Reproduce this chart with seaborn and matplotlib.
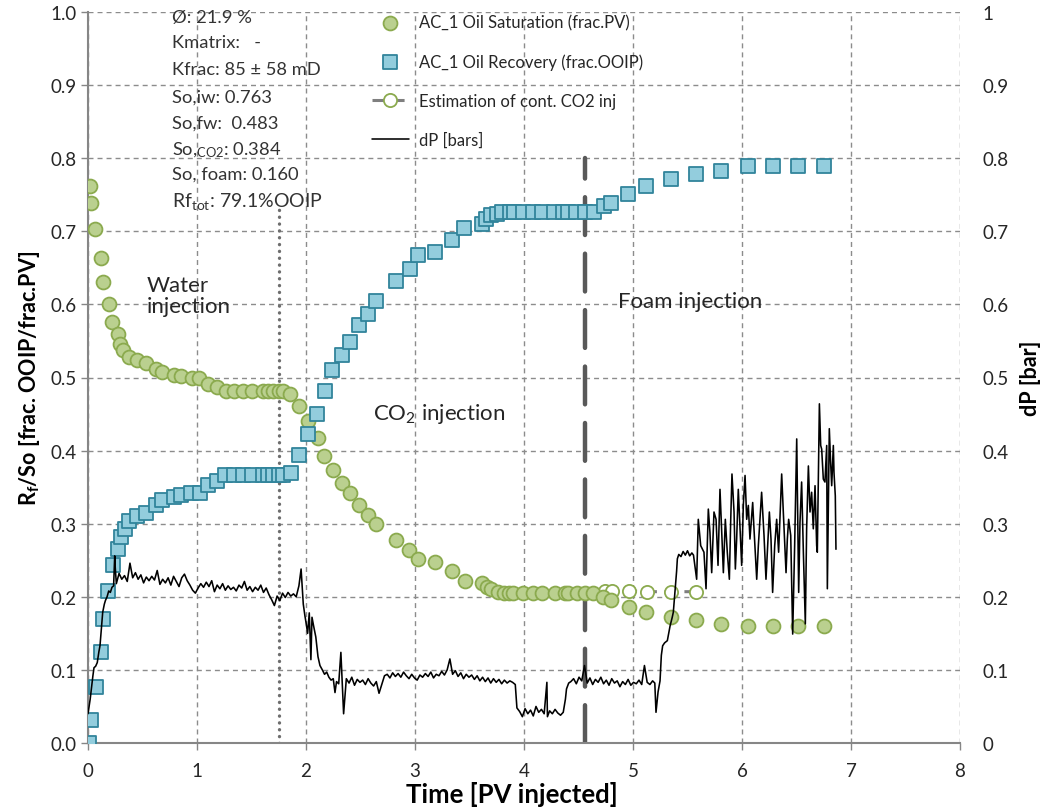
import numpy as np
import pandas as pd
import matplotlib
matplotlib.use("Agg")
import matplotlib.pyplot as plt
import seaborn as sns

# ---------------- data ----------------
# AC_1 oil saturation (frac. PV) vs. injected pore volumes
sat_pv = [0.018, 0.030, 0.064, 0.116, 0.135, 0.193, 0.223, 0.272, 0.294, 0.324,
          0.379, 0.452, 0.532, 0.624, 0.676, 0.792, 0.850, 0.951, 1.020, 1.104,
          1.180, 1.263, 1.340, 1.425, 1.508, 1.603, 1.654, 1.700, 1.752, 1.786,
          1.853, 1.939, 2.015, 2.107, 2.165, 2.245, 2.330, 2.404, 2.490, 2.566,
          2.642, 2.823, 2.945, 3.028, 3.183, 3.343, 3.456, 3.612, 3.657, 3.700,
          3.764, 3.817, 3.865, 3.902, 3.994, 4.085, 4.168, 4.284, 4.376, 4.407,
          4.483, 4.560, 4.636, 4.727, 4.798, 4.960, 5.119, 5.346, 5.578, 5.810,
          6.058, 6.287, 6.517, 6.752]
sat_so = [0.762, 0.739, 0.703, 0.664, 0.630, 0.600, 0.576, 0.559, 0.546, 0.537,
          0.528, 0.524, 0.520, 0.512, 0.507, 0.503, 0.502, 0.499, 0.499, 0.491,
          0.487, 0.482, 0.482, 0.482, 0.482, 0.482, 0.482, 0.482, 0.482, 0.482,
          0.477, 0.461, 0.440, 0.417, 0.392, 0.373, 0.355, 0.342, 0.325, 0.312,
          0.299, 0.278, 0.264, 0.252, 0.247, 0.235, 0.222, 0.219, 0.214, 0.210,
          0.207, 0.205, 0.205, 0.205, 0.205, 0.205, 0.205, 0.205, 0.205, 0.205,
          0.205, 0.205, 0.205, 0.200, 0.195, 0.186, 0.179, 0.172, 0.168, 0.163,
          0.160, 0.160, 0.160, 0.160]

# AC_1 oil recovery (frac. OOIP)
rec_pv = [0.012, 0.028, 0.070, 0.116, 0.141, 0.187, 0.226, 0.272, 0.300, 0.343,
          0.379, 0.452, 0.532, 0.624, 0.676, 0.792, 0.850, 0.945, 1.028, 1.104,
          1.180, 1.257, 1.340, 1.425, 1.508, 1.603, 1.650, 1.700, 1.755, 1.790,
          1.859, 1.939, 2.015, 2.098, 2.174, 2.241, 2.327, 2.404, 2.490, 2.566,
          2.639, 2.823, 2.954, 3.025, 3.183, 3.343, 3.452, 3.612, 3.651, 3.694,
          3.755, 3.795, 3.872, 3.909, 3.994, 4.080, 4.168, 4.275, 4.360, 4.407,
          4.480, 4.557, 4.645, 4.734, 4.798, 4.957, 5.119, 5.346, 5.578, 5.810,
          6.058, 6.287, 6.517, 6.752]
rec_rf = [0.000, 0.031, 0.076, 0.125, 0.170, 0.208, 0.243, 0.265, 0.282, 0.293,
          0.304, 0.310, 0.314, 0.325, 0.332, 0.337, 0.339, 0.342, 0.342, 0.353,
          0.359, 0.366, 0.366, 0.366, 0.366, 0.366, 0.366, 0.366, 0.366, 0.366,
          0.370, 0.394, 0.423, 0.450, 0.482, 0.510, 0.531, 0.548, 0.572, 0.587,
          0.604, 0.632, 0.649, 0.667, 0.672, 0.688, 0.705, 0.710, 0.717, 0.722,
          0.724, 0.727, 0.727, 0.727, 0.727, 0.727, 0.727, 0.727, 0.727, 0.727,
          0.727, 0.727, 0.727, 0.734, 0.739, 0.751, 0.762, 0.772, 0.779, 0.783,
          0.790, 0.790, 0.790, 0.790]

# Estimated saturation had CO2 injection continued
est_pv = [4.743, 4.804, 4.960, 5.125, 5.346, 5.578]
est_so = [0.208, 0.208, 0.208, 0.207, 0.207, 0.207]

# Differential pressure log [bar]
dp_t1 = [0.000, 0.020, 0.034, 0.045, 0.055, 0.070, 0.085, 0.100, 0.110, 0.125,
         0.135, 0.150, 0.160, 0.175, 0.190, 0.205, 0.220, 0.235, 0.245, 0.250]
dp_v1 = [0.040, 0.060, 0.078, 0.092, 0.103, 0.105, 0.110, 0.125, 0.133, 0.160,
         0.179, 0.190, 0.195, 0.200, 0.208, 0.206, 0.213, 0.215, 0.256, 0.240]
# water injection plateau, logged every 0.025 PV from 0.26 PV
dp_v2 = [0.218, 0.232, 0.224, 0.229, 0.221, 0.246, 0.226, 0.233, 0.224, 0.230,
         0.219, 0.227, 0.222, 0.228, 0.223, 0.236, 0.217, 0.224, 0.219, 0.226,
         0.216, 0.228, 0.221, 0.214, 0.226, 0.231, 0.222, 0.216, 0.209, 0.205,
         0.212, 0.218, 0.213, 0.220, 0.214, 0.222, 0.207, 0.216, 0.211, 0.218,
         0.209, 0.215, 0.210, 0.213, 0.208, 0.216, 0.212, 0.221, 0.209, 0.214,
         0.207, 0.213, 0.209, 0.216, 0.206, 0.212, 0.203, 0.196, 0.188, 0.201,
         0.195, 0.205, 0.199, 0.206, 0.201, 0.204, 0.200, 0.215]
dp_t3 = [1.955, 1.965, 1.975, 1.990, 2.000, 2.015, 2.030, 2.045, 2.055, 2.070,
         2.090, 2.110, 2.128, 2.150, 2.170, 2.190, 2.210, 2.230, 2.250, 2.266,
         2.280, 2.300]
dp_v3 = [0.238, 0.215, 0.190, 0.174, 0.165, 0.150, 0.178, 0.114, 0.172, 0.160,
         0.145, 0.118, 0.106, 0.100, 0.094, 0.097, 0.090, 0.086, 0.088, 0.069,
         0.084, 0.081]
# CO2 injection plateau, every 0.025 PV from 2.32 PV
dp_v4 = [0.124, 0.040, 0.088, 0.082, 0.090, 0.079, 0.087, 0.083, 0.086, 0.080,
         0.088, 0.082, 0.078, 0.084, 0.068, 0.080, 0.092, 0.094, 0.089, 0.096,
         0.091, 0.095, 0.090, 0.097, 0.092, 0.088, 0.094, 0.089, 0.086, 0.093,
         0.090, 0.095, 0.091, 0.097, 0.089, 0.094, 0.092, 0.098, 0.093, 0.100,
         0.115, 0.094, 0.099, 0.091, 0.096, 0.088, 0.094, 0.090, 0.093, 0.087,
         0.092, 0.085, 0.090, 0.084, 0.089, 0.082, 0.088, 0.083, 0.087, 0.081,
         0.086, 0.082, 0.085, 0.083]
dp_t5 = [3.920, 3.935, 3.960, 3.985, 4.010, 4.035, 4.060, 4.085, 4.110, 4.135,
         4.160, 4.185, 4.210, 4.215, 4.235, 4.260, 4.285, 4.310, 4.335, 4.360,
         4.380, 4.390, 4.410]
dp_v5 = [0.080, 0.048, 0.043, 0.036, 0.047, 0.040, 0.045, 0.037, 0.050, 0.042,
         0.046, 0.040, 0.083, 0.036, 0.044, 0.040, 0.046, 0.041, 0.038, 0.042,
         0.060, 0.074, 0.082]
# second CO2 stretch, every 0.025 PV from 4.43 PV
dp_v6 = [0.084, 0.088, 0.081, 0.090, 0.085, 0.106, 0.082, 0.089, 0.080, 0.087,
         0.083, 0.090, 0.081, 0.086, 0.079, 0.088, 0.082, 0.085, 0.077, 0.084,
         0.080, 0.087, 0.079, 0.083, 0.081, 0.086, 0.080, 0.106, 0.083, 0.080,
         0.085]
dp_t7 = [5.200, 5.211, 5.230, 5.248, 5.260, 5.272, 5.290, 5.315, 5.340, 5.360,
         5.370, 5.385, 5.400, 5.407, 5.420, 5.440, 5.460, 5.480, 5.500, 5.520,
         5.540, 5.555, 5.570]
dp_v7 = [0.082, 0.042, 0.070, 0.085, 0.120, 0.133, 0.137, 0.140, 0.160, 0.172,
         0.179, 0.207, 0.235, 0.252, 0.258, 0.255, 0.262, 0.257, 0.263, 0.256,
         0.260, 0.257, 0.240]
# foam injection
dp_t8 = [5.584, 5.599, 5.621, 5.651, 5.670, 5.691, 5.706, 5.722, 5.743, 5.762,
         5.780, 5.798, 5.813, 5.829, 5.847, 5.865, 5.884, 5.896, 5.908, 5.927,
         5.939, 5.951, 5.966, 5.982, 5.997, 6.012, 6.028, 6.043, 6.058, 6.073,
         6.098, 6.110, 6.135, 6.150, 6.165, 6.180, 6.202, 6.220, 6.236, 6.251,
         6.266, 6.281, 6.300, 6.318, 6.336, 6.364, 6.379, 6.404, 6.416, 6.428,
         6.447, 6.465, 6.483, 6.502, 6.520, 6.532, 6.547, 6.563, 6.581, 6.593,
         6.609, 6.624, 6.639, 6.654, 6.670, 6.685, 6.691, 6.710, 6.722, 6.731,
         6.746, 6.761, 6.777, 6.783, 6.801, 6.813, 6.823, 6.838, 6.844, 6.856,
         6.862]
dp_v8 = [0.224, 0.306, 0.270, 0.261, 0.211, 0.320, 0.288, 0.233, 0.316, 0.306,
         0.243, 0.347, 0.293, 0.233, 0.306, 0.261, 0.224, 0.302, 0.368, 0.316,
         0.238, 0.279, 0.347, 0.293, 0.243, 0.325, 0.366, 0.306, 0.325, 0.279,
         0.329, 0.293, 0.224, 0.270, 0.306, 0.343, 0.284, 0.224, 0.270, 0.316,
         0.279, 0.206, 0.270, 0.306, 0.261, 0.368, 0.316, 0.233, 0.279, 0.306,
         0.284, 0.149, 0.270, 0.416, 0.206, 0.302, 0.357, 0.261, 0.163, 0.293,
         0.379, 0.316, 0.343, 0.293, 0.352, 0.270, 0.261, 0.464, 0.407, 0.402,
         0.361, 0.357, 0.407, 0.211, 0.430, 0.384, 0.352, 0.407, 0.370, 0.338,
         0.265]

dp_time = np.concatenate([
    dp_t1,
    np.linspace(0.26, 0.26 + 0.025 * (len(dp_v2) - 1), len(dp_v2)),
    dp_t3,
    np.linspace(2.32, 2.32 + 0.025 * (len(dp_v4) - 1), len(dp_v4)),
    dp_t5,
    np.linspace(4.43, 4.43 + 0.025 * (len(dp_v6) - 1), len(dp_v6)),
    dp_t7,
    dp_t8,
])
dp_bar = np.concatenate([dp_v1, dp_v2, dp_v3, dp_v4, dp_v5, dp_v6, dp_v7, dp_v8])

# phase boundaries (PV injected) and the heights the markers reach
co2_start_pv, co2_start_top = 1.75, 0.735
foam_start_pv, foam_start_top = 4.56, 0.80

info_lines = ["Ø: 21.9 %", "Kmatrix:   -", "Kfrac: 85 ± 58 mD", "So,iw: 0.763",
              "So,fw:  0.483", r"So,$_{\rm CO2}$: 0.384", "So, foam: 0.160",
              r"Rf$_{\rm tot}$: 79.1%OOIP"]

x_ticks = [0, 1, 2, 3, 4, 5, 6, 7, 8]
y_ticks = [0.0, 0.1, 0.2, 0.3, 0.4, 0.5, 0.6, 0.7, 0.8, 0.9, 1.0]
y2_labels = ["0", "0.1", "0.2", "0.3", "0.4", "0.5", "0.6", "0.7", "0.8", "0.9", "1"]

# ---------------- style ----------------
sns.set_theme(style="white")
plt.rcParams["font.family"] = ["Lato", "DejaVu Sans"]
plt.rcParams["mathtext.fontset"] = "custom"
plt.rcParams["mathtext.rm"] = "Lato"
plt.rcParams["mathtext.it"] = "Lato:italic"
plt.rcParams["mathtext.bf"] = "Lato:bold"

TXT = "#262626"
GRID = "#8c8c8c"
SPINE = "#868686"
GREEN_FACE, GREEN_EDGE = "#BAD08F", "#8BAA4E"
BLUE_FACE, BLUE_EDGE = "#93CDDD", "#31849B"

fig = plt.figure(figsize=(10.46, 8.12), dpi=100)
ax = fig.add_axes([88 / 1046, 1 - 744 / 812, (960 - 88) / 1046, (744 - 13) / 812])
ax2 = ax.twinx()

sat_df = pd.DataFrame({"pv": sat_pv, "so": sat_so})
rec_df = pd.DataFrame({"pv": rec_pv, "rf": rec_rf})
est_df = pd.DataFrame({"pv": est_pv, "so": est_so})
dp_df = pd.DataFrame({"pv": dp_time, "dp": dp_bar})

# phase boundary markers
ax.plot([co2_start_pv, co2_start_pv], [0, co2_start_top], color="#6e6e6e", lw=2.4,
        linestyle=(0, (0.05, 2.0)), dash_capstyle="round", zorder=2)
ax.plot([foam_start_pv, foam_start_pv], [0, foam_start_top], color="#595959", lw=3.2,
        linestyle=(0, (8.5, 4.2)), dash_capstyle="round", zorder=2)

sns.scatterplot(data=sat_df, x="pv", y="so", ax=ax, marker="o", s=100,
                color=GREEN_FACE, edgecolor=GREEN_EDGE, linewidth=1.3,
                label="AC_1 Oil Saturation (frac.PV)", zorder=4)
sns.scatterplot(data=rec_df, x="pv", y="rf", ax=ax, marker="s", s=110,
                color=BLUE_FACE, edgecolor=BLUE_EDGE, linewidth=1.3,
                label="AC_1 Oil Recovery (frac.OOIP)", zorder=4)
sns.lineplot(data=est_df, x="pv", y="so", ax=ax, sort=False, estimator=None,
             color="#7f7f7f", lw=2.2, linestyle=(0, (4, 2.5)), marker="o",
             markersize=9.5, markerfacecolor="white", markeredgecolor=GREEN_EDGE,
             markeredgewidth=1.3, label="Estimation of cont. CO2 inj", zorder=3)
sns.lineplot(data=dp_df, x="pv", y="dp", ax=ax2, sort=False, estimator=None,
             color="black", lw=1.15, label="dP [bars]")

# axes limits, grid and ticks
ax.set_xlim(0, 8)
ax.set_ylim(0, 1)
ax2.set_ylim(0, 1)
ax.set_xticks(x_ticks)
ax.set_yticks(y_ticks)
ax.set_yticklabels([f"{v:.1f}" for v in y_ticks])
ax2.set_yticks(y_ticks)
ax2.set_yticklabels(y2_labels)

ax.grid(True, color=GRID, lw=1.0, linestyle=(0, (3.6, 2.9)))
ax.set_axisbelow(True)
for a in (ax, ax2):
    for side in ("top", "right", "left", "bottom"):
        a.spines[side].set_visible(False)
for side in ("left", "bottom"):
    ax.spines[side].set_visible(True)
    ax.spines[side].set_color(SPINE)
    ax.spines[side].set_linewidth(1.5)

ax.tick_params(axis="x", which="both", direction="out", length=5, width=1,
               color=SPINE, pad=9, labelsize=13.5, labelcolor=TXT, bottom=True)
ax.tick_params(axis="y", which="both", direction="out", length=5, width=1,
               color=SPINE, pad=3, labelsize=13.5, labelcolor=TXT, left=True)
ax2.tick_params(axis="y", length=0, pad=16, labelsize=13.5, labelcolor=TXT)

ax.set_xlabel("Time [PV injected]", fontsize=18.5, fontweight="bold", color="black")
ax.xaxis.set_label_coords((512 - 88) / 872, -38 / 731)
ax.set_ylabel(r"R$_{\mathbf{f}}$/So [frac. OOIP/frac.PV]", fontsize=15.5,
              fontweight="bold", color="black", labelpad=6)
ax2.set_ylabel("dP [bar]", fontsize=15.5, fontweight="bold", color="black",
               labelpad=8)

# combined legend
h1, l1 = ax.get_legend_handles_labels()
h2, l2 = ax2.get_legend_handles_labels()
if ax.get_legend() is not None:
    ax.get_legend().remove()
if ax2.get_legend() is not None:
    ax2.get_legend().remove()
fig.legend(h1 + h2, l1 + l2, loc="upper left", bbox_to_anchor=(372 / 1046, 1 - 15 / 812),
           frameon=False, fontsize=12, labelcolor=TXT, handlelength=2.2,
           handletextpad=0.6, labelspacing=1.38, borderpad=0, borderaxespad=0,
           markerscale=1.0)

# sample properties
info_y = [18, 43, 70, 98, 124, 150, 175, 202]
for line, ypx in zip(info_lines, info_y):
    size = 14 if line.startswith("Rf") else 13.2
    fig.text(172 / 1046, 1 - ypx / 812, line, fontsize=size, color="#333333",
             va="center", ha="left")

# injection phase labels
ax.text(0.54, 0.612, "Water\ninjection", fontsize=16, color=TXT, ha="left",
        va="center", linespacing=1.1)
ax.text(2.615, 0.452, r"CO$_2$ injection", fontsize=16, color=TXT, ha="left",
        va="center")
ax.text(4.865, 0.605, "Foam injection", fontsize=16, color=TXT, ha="left",
        va="center")

fig.savefig("out.png", dpi=100)
